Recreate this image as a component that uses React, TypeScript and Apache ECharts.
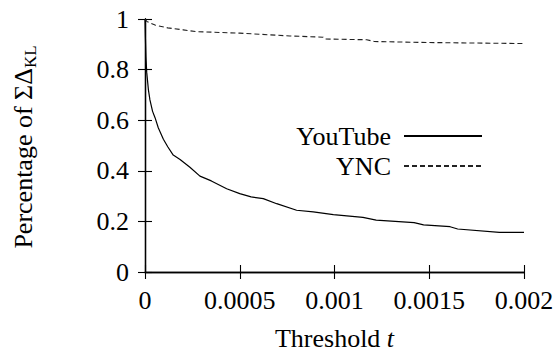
import React, { useEffect, useRef } from "react";
import * as echarts from "echarts";

const youtubeT = [0, 0.000002, 0.000005, 0.000009, 0.000018, 0.000026, 0.00004, 0.000053, 0.00007, 0.000097, 0.00012, 0.000149, 0.000185, 0.000237, 0.00029, 0.00035, 0.000431, 0.0005, 0.00056, 0.000624, 0.000695, 0.0008, 0.000888, 0.000994, 0.00115, 0.00122, 0.00142, 0.00147, 0.00161, 0.00165, 0.00187, 0.002];
const youtubeV = [1.0, 0.93, 0.85, 0.79, 0.72, 0.68, 0.635, 0.61, 0.57, 0.525, 0.495, 0.462, 0.445, 0.414, 0.379, 0.36, 0.329, 0.31, 0.297, 0.29, 0.27, 0.244, 0.238, 0.227, 0.216, 0.205, 0.195, 0.186, 0.179, 0.17, 0.157, 0.157];
const yncT = [0, 0.00001, 0.000053, 0.00012, 0.000202, 0.000273, 0.0005, 0.000765, 0.00094, 0.00095, 0.00117, 0.00121, 0.0015, 0.002];
const yncV = [1.0, 0.99, 0.976, 0.965, 0.957, 0.95, 0.944, 0.933, 0.928, 0.921, 0.918, 0.911, 0.907, 0.903];
const seriesNames = ["YouTube", "YNC"];
const xTicks = ["0", "0.0005", "0.001", "0.0015", "0.002"];
const yTicks = ["0", "0.2", "0.4", "0.6", "0.8", "1"];

const FONT = "Liberation Serif";
const serifRich = { n: { fontFamily: FONT, fontSize: 26, color: "#000" } };

export default function App() {
  const ref = useRef<HTMLDivElement>(null);
  useEffect(() => {
    if (!ref.current) return;
    const chart = echarts.init(ref.current, null, { renderer: "svg" });
    const axisCommon = {
      type: "value" as const,
      axisLine: { show: true, lineStyle: { color: "#000", width: 1.3 } },
      axisTick: { show: true, inside: true, length: 7, lineStyle: { color: "#000", width: 1.1 } },
      splitLine: { show: false },
    };
    const legendCommon = {
      right: 72,
      align: "right" as const,
      itemWidth: 78,
      itemHeight: 14,
      itemGap: 0,
      itemStyle: { opacity: 0 },
      formatter: (name: string) => `{n|${name}}`,
      textStyle: { fontFamily: FONT, fontSize: 26, color: "#000", padding: [0, 8, 0, 0], rich: serifRich },
    };
    chart.setOption({
      animation: false,
      backgroundColor: "#fff",
      textStyle: { fontFamily: FONT, color: "#000" },
      grid: { left: 145, right: 36, top: 19, bottom: 82 },
      xAxis: [
        {
          ...axisCommon,
          min: 0,
          max: 0.002,
          interval: 0.0005,
          position: "bottom",
          axisLabel: {
            color: "#000",
            fontFamily: FONT,
            fontSize: 26,
            margin: 15,
            rich: serifRich,
            formatter: (v: number) => `{n|${xTicks[Math.round(v / 0.0005)] ?? String(v)}}`,
          },
          name: "{a|Threshold }{i|t}",
          nameLocation: "middle",
          nameGap: 53,
          nameTextStyle: {
            rich: {
              a: { fontFamily: FONT, fontSize: 26, color: "#000" },
              i: { fontFamily: FONT, fontSize: 26, fontStyle: "italic", color: "#000" },
            },
          },
        },
        {
          ...axisCommon,
          min: 0,
          max: 0.002,
          interval: 0.0005,
          position: "top",
          axisLabel: { show: false },
        },
      ],
      yAxis: [
        {
          ...axisCommon,
          min: 0,
          max: 1,
          interval: 0.2,
          position: "left",
          axisLabel: {
            color: "#000",
            fontFamily: FONT,
            fontSize: 26,
            margin: 16,
            rich: serifRich,
            formatter: (v: number) => `{n|${yTicks[Math.round(v / 0.2)] ?? String(v)}}`,
          },
        },
        {
          ...axisCommon,
          min: 0,
          max: 1,
          interval: 0.2,
          position: "right",
          axisLabel: { show: false },
        },
      ],
      legend: [
        { ...legendCommon, data: [seriesNames[0]], top: 118 },
        { ...legendCommon, data: [seriesNames[1]], top: 148 },
      ],
      graphic: [
        {
          type: "text",
          x: 23,
          y: 147,
          rotation: Math.PI / 2,
          style: {
            text: "{a|Percentage of ΣΔ}{b|KL}",
            align: "center",
            verticalAlign: "middle",
            rich: {
              a: { fontFamily: FONT, fontSize: 26, lineHeight: 32, fill: "#000" },
              b: { fontFamily: FONT, fontSize: 17, lineHeight: 17, verticalAlign: "bottom", fill: "#000" },
            },
          },
        },
      ],
      series: [
        {
          name: seriesNames[0],
          type: "line",
          symbol: "none",
          data: youtubeT.map((t, i) => [t, youtubeV[i]]),
          lineStyle: { color: "#000", width: 1.2, type: "solid" },
          itemStyle: { color: "#000" },
        },
        {
          name: seriesNames[1],
          type: "line",
          symbol: "none",
          data: yncT.map((t, i) => [t, yncV[i]]),
          lineStyle: { color: "#222", width: 1.1, type: [5, 3] },
          itemStyle: { color: "#222" },
        },
      ],
    });
    return () => chart.dispose();
  }, []);
  return (
    <div
      ref={ref}
      style={{ position: "fixed", left: 0, top: 0, width: 560, height: 356, background: "#fff" }}
    />
  );
}
